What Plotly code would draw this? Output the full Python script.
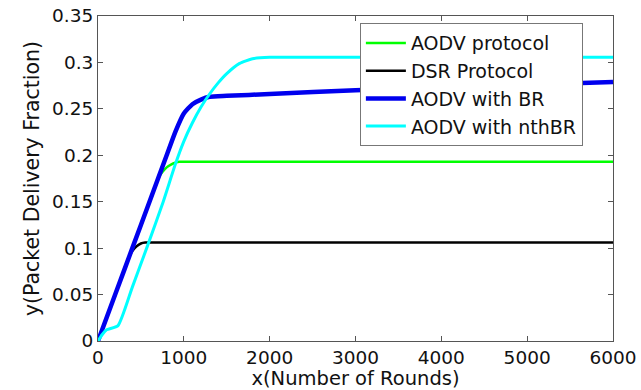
import plotly.graph_objects as go

# Data
aodv_x = [0, 200, 400, 600, 700, 750, 800, 850, 900, 950, 1000, 6000]
aodv_y = [0, 0.05, 0.1, 0.15, 0.175, 0.182, 0.187, 0.190, 0.192, 0.193, 0.193, 0.193]

dsr_x = [0, 200, 350, 400, 450, 500, 550, 600, 6000]
dsr_y = [0, 0.05, 0.088, 0.097, 0.102, 0.105, 0.106, 0.106, 0.106]

br_x = [0, 200, 400, 600, 800, 900, 1000, 1100, 1200, 1300, 1500, 2000, 3000, 4000, 5000, 6000]
br_y = [0, 0.05, 0.1, 0.15, 0.2, 0.225, 0.245, 0.255, 0.26, 0.263, 0.264, 0.266, 0.270, 0.273, 0.276, 0.279]

nth_x = [0, 50, 100, 233, 400, 567, 760, 900, 1000, 1100, 1200, 1300, 1400, 1500, 1650, 1800, 2000, 3000, 6000]
nth_y = [0, 0.007, 0.012, 0.0165, 0.058, 0.1, 0.15, 0.19, 0.215, 0.235, 0.252, 0.266, 0.278, 0.288, 0.299, 0.304, 0.3055, 0.3055, 0.3055]

x_ticks = [0, 1000, 2000, 3000, 4000, 5000, 6000]
y_ticks = [0, 0.05, 0.1, 0.15, 0.2, 0.25, 0.3, 0.35]
y_tick_labels = ["0", "0.05", "0.1", "0.15", "0.2", "0.25", "0.3", "0.35"]

FONT = "DejaVu Sans"

fig = go.Figure()
fig.add_trace(go.Scatter(x=aodv_x, y=aodv_y, mode="lines", name="AODV protocol",
                         line=dict(color="#00FF00", width=2.5, shape="spline", smoothing=0.5)))
fig.add_trace(go.Scatter(x=dsr_x, y=dsr_y, mode="lines", name="DSR Protocol",
                         line=dict(color="#000000", width=2.5, shape="spline", smoothing=0.5)))
fig.add_trace(go.Scatter(x=br_x, y=br_y, mode="lines", name="AODV with BR",
                         line=dict(color="#0000EE", width=4.5, shape="spline", smoothing=0.5)))
fig.add_trace(go.Scatter(x=nth_x, y=nth_y, mode="lines", name="AODV with nthBR",
                         line=dict(color="#00FFFF", width=3, shape="spline", smoothing=0.5)))

axis_common = dict(showline=True, linecolor="#555555", linewidth=1, mirror="ticks",
                   ticks="inside", ticklen=5, tickcolor="#555555", showgrid=False,
                   zeroline=False, automargin=False, ticklabeloverflow="allow",
                   tickfont=dict(family=FONT, size=18.5, color="#111111"))

fig.update_xaxes(range=[0, 6000], tickvals=x_ticks, ticktext=[str(v) for v in x_ticks],
                 title=dict(text="x(Number of Rounds)", font=dict(family=FONT, size=19.5, color="#111111"), standoff=8),
                 **axis_common)
fig.update_yaxes(range=[0, 0.35], tickvals=y_ticks, ticktext=y_tick_labels,
                 title=dict(text="y(Packet Delivery Fraction)", font=dict(family=FONT, size=20.5, color="#111111"), standoff=6),
                 **axis_common)

fig.update_layout(
    width=641, height=390,
    margin=dict(l=98, r=28, t=16, b=49),
    paper_bgcolor="white", plot_bgcolor="white",
    showlegend=True,
    legend=dict(x=0.725, y=0.978, xanchor="center", yanchor="top",
                bgcolor="white", bordercolor="#777777", borderwidth=1,
                font=dict(family=FONT, size=19, color="#111111"),
                tracegroupgap=0, itemwidth=40),
)

# remove the default page margin so the figure fills the 641x390 window
fig.write_html("out.html", config={"displayModeBar": False},
               post_script="document.body.style.margin='0';")
